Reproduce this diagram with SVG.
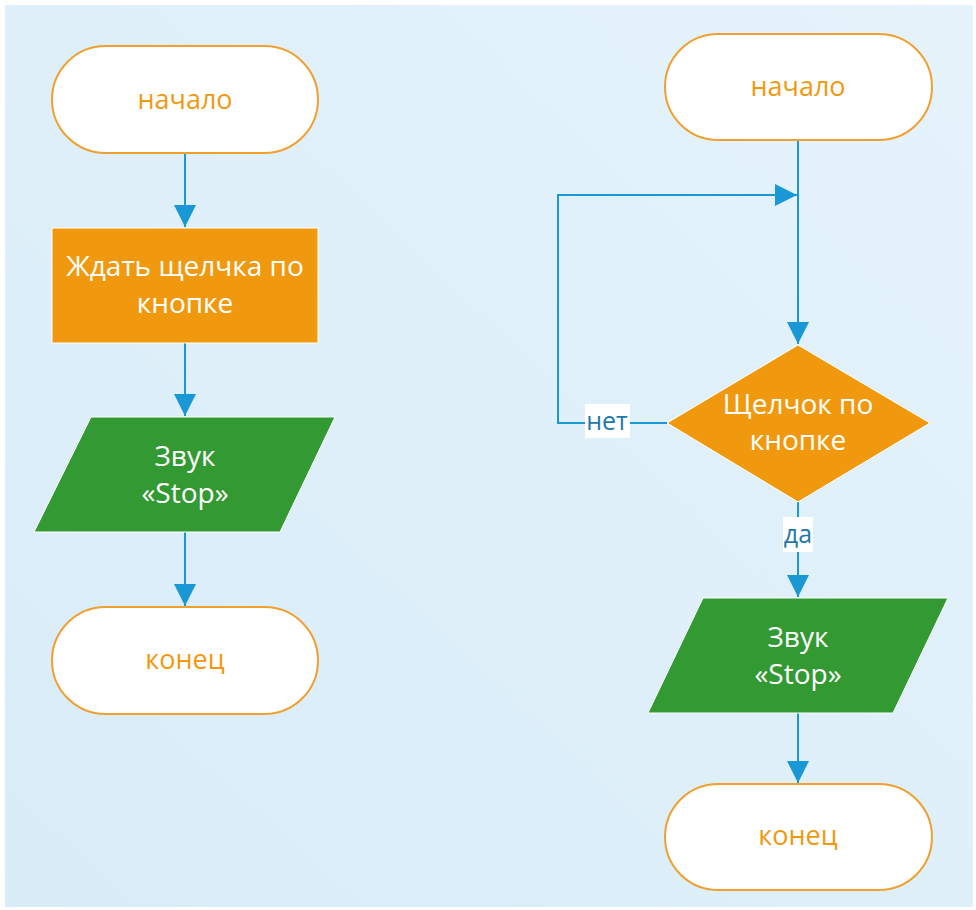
<svg xmlns="http://www.w3.org/2000/svg" width="976" height="910" viewBox="0 0 976 910">
<defs>
<linearGradient id="bg" x1="1" y1="0" x2="0" y2="1">
<stop offset="0" stop-color="#e5f3fb"/>
<stop offset="1" stop-color="#d8ecf8"/>
</linearGradient>
<marker id="ah" viewBox="0 0 10 10" refX="10" refY="5" markerWidth="23" markerHeight="22" markerUnits="userSpaceOnUse" orient="auto">
<path d="M0,0 L10,5 L0,10 z" fill="#1a98d5"/>
</marker>
<style>
.term{fill:#fff;stroke:#f0a030;stroke-width:2}
.proc{fill:#f0990e;stroke:#fff;stroke-width:1}
.io{fill:#339933;stroke:#fff;stroke-width:1}
.tt{font-family:"Open Sans","Noto Sans",sans-serif;font-size:27px;fill:#f0990e;text-anchor:middle}
.wt{font-family:"Open Sans","Noto Sans",sans-serif;font-size:28px;fill:#fff;text-anchor:middle}
.ln{fill:none;stroke:#1a98d5;stroke-width:2}
.lb{font-family:"Open Sans","Noto Sans",sans-serif;font-size:25px;fill:#1f78aa;text-anchor:middle}
</style>
</defs>
<rect x="0" y="0" width="976" height="910" fill="#fff"/>
<rect x="5" y="5" width="968" height="902" fill="url(#bg)"/>
<g id="connectors">
<line class="ln" x1="185" y1="153" x2="185" y2="227" marker-end="url(#ah)"/>
<line class="ln" x1="185" y1="343" x2="185" y2="416" marker-end="url(#ah)"/>
<line class="ln" x1="185" y1="532" x2="185" y2="606" marker-end="url(#ah)"/>
<line class="ln" x1="798" y1="140" x2="798" y2="344" marker-end="url(#ah)"/>
<polyline class="ln" points="667,423 558,423 558,195 797,195" marker-end="url(#ah)"/>
<line class="ln" x1="798" y1="502" x2="798" y2="597" marker-end="url(#ah)"/>
<line class="ln" x1="798" y1="713" x2="798" y2="783" marker-end="url(#ah)"/>
<rect x="585" y="404" width="45" height="34" fill="#fff"/>
<text class="lb" x="607" y="430">нет</text>
<rect x="783" y="517" width="30" height="35" fill="#fff"/>
<text class="lb" x="798" y="543">да</text>
</g>
<g id="start1">
<rect class="term" x="52" y="46" width="266" height="107" rx="53.5"/>
<text class="tt" x="185" y="109">начало</text>
</g>
<g id="wait">
<rect class="proc" x="52" y="228" width="266" height="115"/>
<text class="wt" x="185" y="276">Ждать щелчка по</text>
<text class="wt" x="185" y="313">кнопке</text>
</g>
<g id="sound1">
<polygon class="io" points="91,417 335,417 280,532 34,532"/>
<text class="wt" x="185" y="466">Звук</text>
<text class="wt" x="185" y="503">«Stop»</text>
</g>
<g id="end1">
<rect class="term" x="52" y="607" width="266" height="107" rx="53.5"/>
<text class="tt" x="185" y="669">конец</text>
</g>
<g id="start2">
<rect class="term" x="665" y="34" width="267" height="106" rx="53"/>
<text class="tt" x="798" y="96">начало</text>
</g>
<g id="decision">
<polygon class="proc" points="798,345 930,423 798,502 667,423"/>
<text class="wt" x="798" y="414">Щелчок по</text>
<text class="wt" x="798" y="450">кнопке</text>
</g>
<g id="sound2">
<polygon class="io" points="703,598 948,598 893,713 648,713"/>
<text class="wt" x="798" y="647">Звук</text>
<text class="wt" x="798" y="684">«Stop»</text>
</g>
<g id="end2">
<rect class="term" x="665" y="784" width="267" height="106" rx="53"/>
<text class="tt" x="798" y="845">конец</text>
</g>
</svg>
